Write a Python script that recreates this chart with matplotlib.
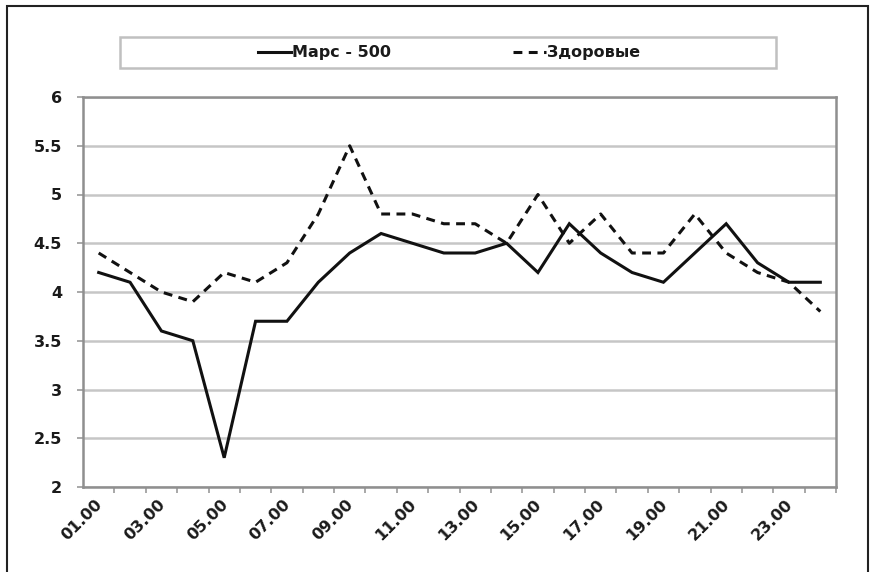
import matplotlib
matplotlib.use("Agg")
import matplotlib.pyplot as plt
from matplotlib.patches import Rectangle
from matplotlib.transforms import ScaledTranslation

plt.rcParams['font.family'] = ['DejaVu Sans']

hours = ["01.00", "02.00", "03.00", "04.00", "05.00", "06.00", "07.00", "08.00",
         "09.00", "10.00", "11.00", "12.00", "13.00", "14.00", "15.00", "16.00",
         "17.00", "18.00", "19.00", "20.00", "21.00", "22.00", "23.00", "24.00"]
mars500 = [4.2, 4.1, 3.6, 3.5, 2.3, 3.7, 3.7, 4.1, 4.4, 4.6, 4.5, 4.4,
           4.4, 4.5, 4.2, 4.7, 4.4, 4.2, 4.1, 4.4, 4.7, 4.3, 4.1, 4.1]
healthy = [4.4, 4.2, 4.0, 3.9, 4.2, 4.1, 4.3, 4.8, 5.5, 4.8, 4.8, 4.7,
           4.7, 4.5, 5.0, 4.5, 4.8, 4.4, 4.4, 4.8, 4.4, 4.2, 4.1, 3.8]
label_mars = "Марс - 500"
label_healthy = "Здоровые"
yticks = [2, 2.5, 3, 3.5, 4, 4.5, 5, 5.5, 6]
ytick_labels = ["2", "2.5", "3", "3.5", "4", "4.5", "5", "5.5", "6"]

W, H = 871, 572
FS = 11.5
fig = plt.figure(figsize=(W / 100, H / 100), dpi=100)

# outer frame
fig.patches.append(Rectangle((7 / W, -0.05), (868 - 7) / W, 1.05 - 6 / H,
                             transform=fig.transFigure, fill=False,
                             edgecolor='#222222', linewidth=1.5, zorder=0))

ax = fig.add_axes([83 / W, (H - 487) / H, (836 - 83) / W, (487 - 97) / H])
n = len(hours)
x = list(range(n))
ax.plot(x, mars500, color='#111111', lw=2.2, solid_joinstyle='miter', label=label_mars)
ax.plot(x, healthy, color='#111111', lw=2.2, linestyle=(0, (2.9, 2.1)), label=label_healthy)

ax.set_xlim(-0.5, n - 0.5)
ax.set_ylim(2, 6)
ax.set_yticks(yticks)
ax.set_yticklabels(ytick_labels, fontsize=FS, fontweight='bold', color='#1a1a1a')
ax.yaxis.grid(True, color='#c6c6c6', lw=1.8)
ax.set_axisbelow(True)

# category ticks at boundaries, labels every other category
ax.set_xticks([i + 0.5 for i in range(n)], minor=False)
ax.set_xticklabels([])
ax.set_xticks(x[::2], minor=True)
ax.set_xticklabels(hours[::2], minor=True, rotation=45, ha='right', va='top',
                   rotation_mode='anchor', fontsize=FS, fontweight='bold', color='#1a1a1a')
ax.tick_params(axis='x', which='minor', length=0, pad=7)
ax.tick_params(axis='x', which='major', length=4, color='#999999', width=1.2)
ax.tick_params(axis='y', length=4, color='#999999', width=1.2, pad=11)
shift = ScaledTranslation(-4 / 100, 0, fig.dpi_scale_trans)
for lbl in ax.get_xticklabels(minor=True):
    lbl.set_transform(lbl.get_transform() + shift)

for s in ax.spines.values():
    s.set_color('#8f8f8f')
    s.set_linewidth(1.8)

# legend box
fig.patches.append(Rectangle((120 / W, (H - 68) / H), (776 - 120) / W, 31 / H,
                             transform=fig.transFigure, facecolor='white',
                             edgecolor='#c0c0c0', linewidth=1.8, zorder=1))
leg = fig.legend(loc='center', bbox_to_anchor=(449 / W, (H - 53) / H), ncol=2,
                 frameon=False, handlelength=2.1, handletextpad=0.05,
                 columnspacing=7.6, prop={'weight': 'bold', 'size': FS})
for t in leg.get_texts():
    t.set_color('#1a1a1a')
leg.set_zorder(2)

fig.savefig("out.png", dpi=100)
